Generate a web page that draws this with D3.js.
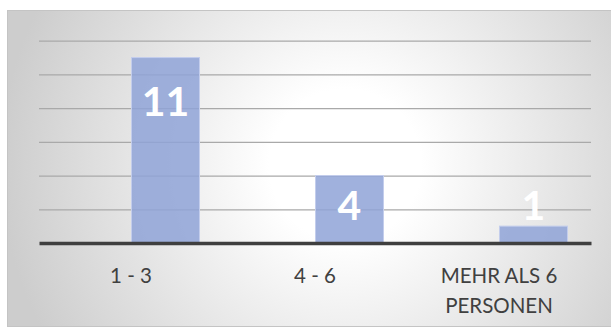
<!DOCTYPE html>
<html>
<head>
<meta charset="utf-8">
<script src="https://cdn.jsdelivr.net/npm/d3@7"></script>
<style>
  html, body { margin: 0; padding: 0; background: #ffffff; }
  svg { display: block; }
</style>
</head>
<body>
<script>
// Haushaltsgröße: Anzahl der Antworten je Gruppe
const categories = ["1 - 3", "4 - 6", "MEHR ALS 6 PERSONEN"];
const counts = [11, 4, 1];
const yTicks = [0, 2, 4, 6, 8, 10, 12];

const W = 611, H = 327;
const frame = { x: 7.5, y: 10.5, w: 610, h: 316 };
const plot = { left: 39, right: 591, top: 40.7, bottom: 243 };

const svg = d3.select("body").append("svg")
  .attr("width", W).attr("height", H);

// soft radial backdrop of the chart frame
const defs = svg.append("defs");
const grad = defs.append("radialGradient")
  .attr("id", "bg").attr("gradientUnits", "userSpaceOnUse")
  .attr("cx", 345).attr("cy", 165).attr("r", 345);
grad.append("stop").attr("offset", "0").attr("stop-color", "#ffffff");
grad.append("stop").attr("offset", "0.22").attr("stop-color", "#ffffff");
grad.append("stop").attr("offset", "1").attr("stop-color", "#cdcdcd");

svg.append("rect")
  .attr("x", frame.x).attr("y", frame.y)
  .attr("width", frame.w).attr("height", frame.h)
  .attr("fill", "url(#bg)")
  .attr("stroke", "#c4c4c4").attr("stroke-width", 1);

const x = d3.scaleBand()
  .domain(categories)
  .range([plot.left, plot.right]);

const y = d3.scaleLinear()
  .domain([0, 12])
  .range([plot.bottom, plot.top]);

// horizontal gridlines
const grid = svg.append("g")
  .attr("transform", `translate(${plot.left},0)`)
  .call(d3.axisLeft(y).tickValues(yTicks.filter(d => d > 0))
    .tickSize(-(plot.right - plot.left)).tickFormat(""));
grid.select(".domain").remove();
grid.selectAll(".tick line")
  .attr("stroke", "#a9a9a9").attr("stroke-width", 1.3);

// bars sit in the right half of each category slot
const barW = 68;
svg.append("g").selectAll("rect")
  .data(counts)
  .join("rect")
  .attr("x", (d, i) => x(categories[i]) + x.bandwidth() / 2 + 0.5)
  .attr("y", d => y(d))
  .attr("width", barW)
  .attr("height", d => y(0) - y(d))
  .attr("fill", "#8fa3d7").attr("fill-opacity", 0.85)
  .attr("stroke", "#c3cdec").attr("stroke-width", 1);

// baseline
const xAxis = svg.append("g")
  .attr("transform", `translate(0,${plot.bottom})`)
  .call(d3.axisBottom(x).tickSize(0).tickFormat(""));
xAxis.select(".domain")
  .attr("stroke", "#3f3f3f").attr("stroke-width", 3.5);

// category labels (wrapped over two lines where needed)
const catLabels = svg.append("g")
  .attr("font-family", "Lato, 'Open Sans', sans-serif")
  .attr("font-size", 20.5)
  .attr("fill", "#404040")
  .attr("text-anchor", "middle");
const wrap = {"MEHR ALS 6 PERSONEN": ["MEHR ALS 6", "PERSONEN"]};
categories.forEach(c => {
  const lines = wrap[c] || [c];
  const t = catLabels.append("text")
    .attr("x", x(c) + x.bandwidth() / 2)
    .attr("y", 283);
  lines.forEach((ln, k) => {
    t.append("tspan")
      .attr("x", x(c) + x.bandwidth() / 2)
      .attr("dy", k === 0 ? 0 : 29.5)
      .text(ln);
  });
});

// value labels near the top of each bar
svg.append("g")
  .attr("font-family", "Lato, 'Open Sans', sans-serif")
  .attr("font-weight", 700)
  .attr("font-size", 41)
  .attr("fill", "#ffffff")
  .attr("text-anchor", "middle")
  .selectAll("text")
  .data(counts)
  .join("text")
  .attr("x", (d, i) => x(categories[i]) + x.bandwidth() / 2 + barW / 2 + 0.5)
  .attr("y", d => Math.min(y(d) + 58, y(0) - 23))
  .text(d => d);
</script>
</body>
</html>
